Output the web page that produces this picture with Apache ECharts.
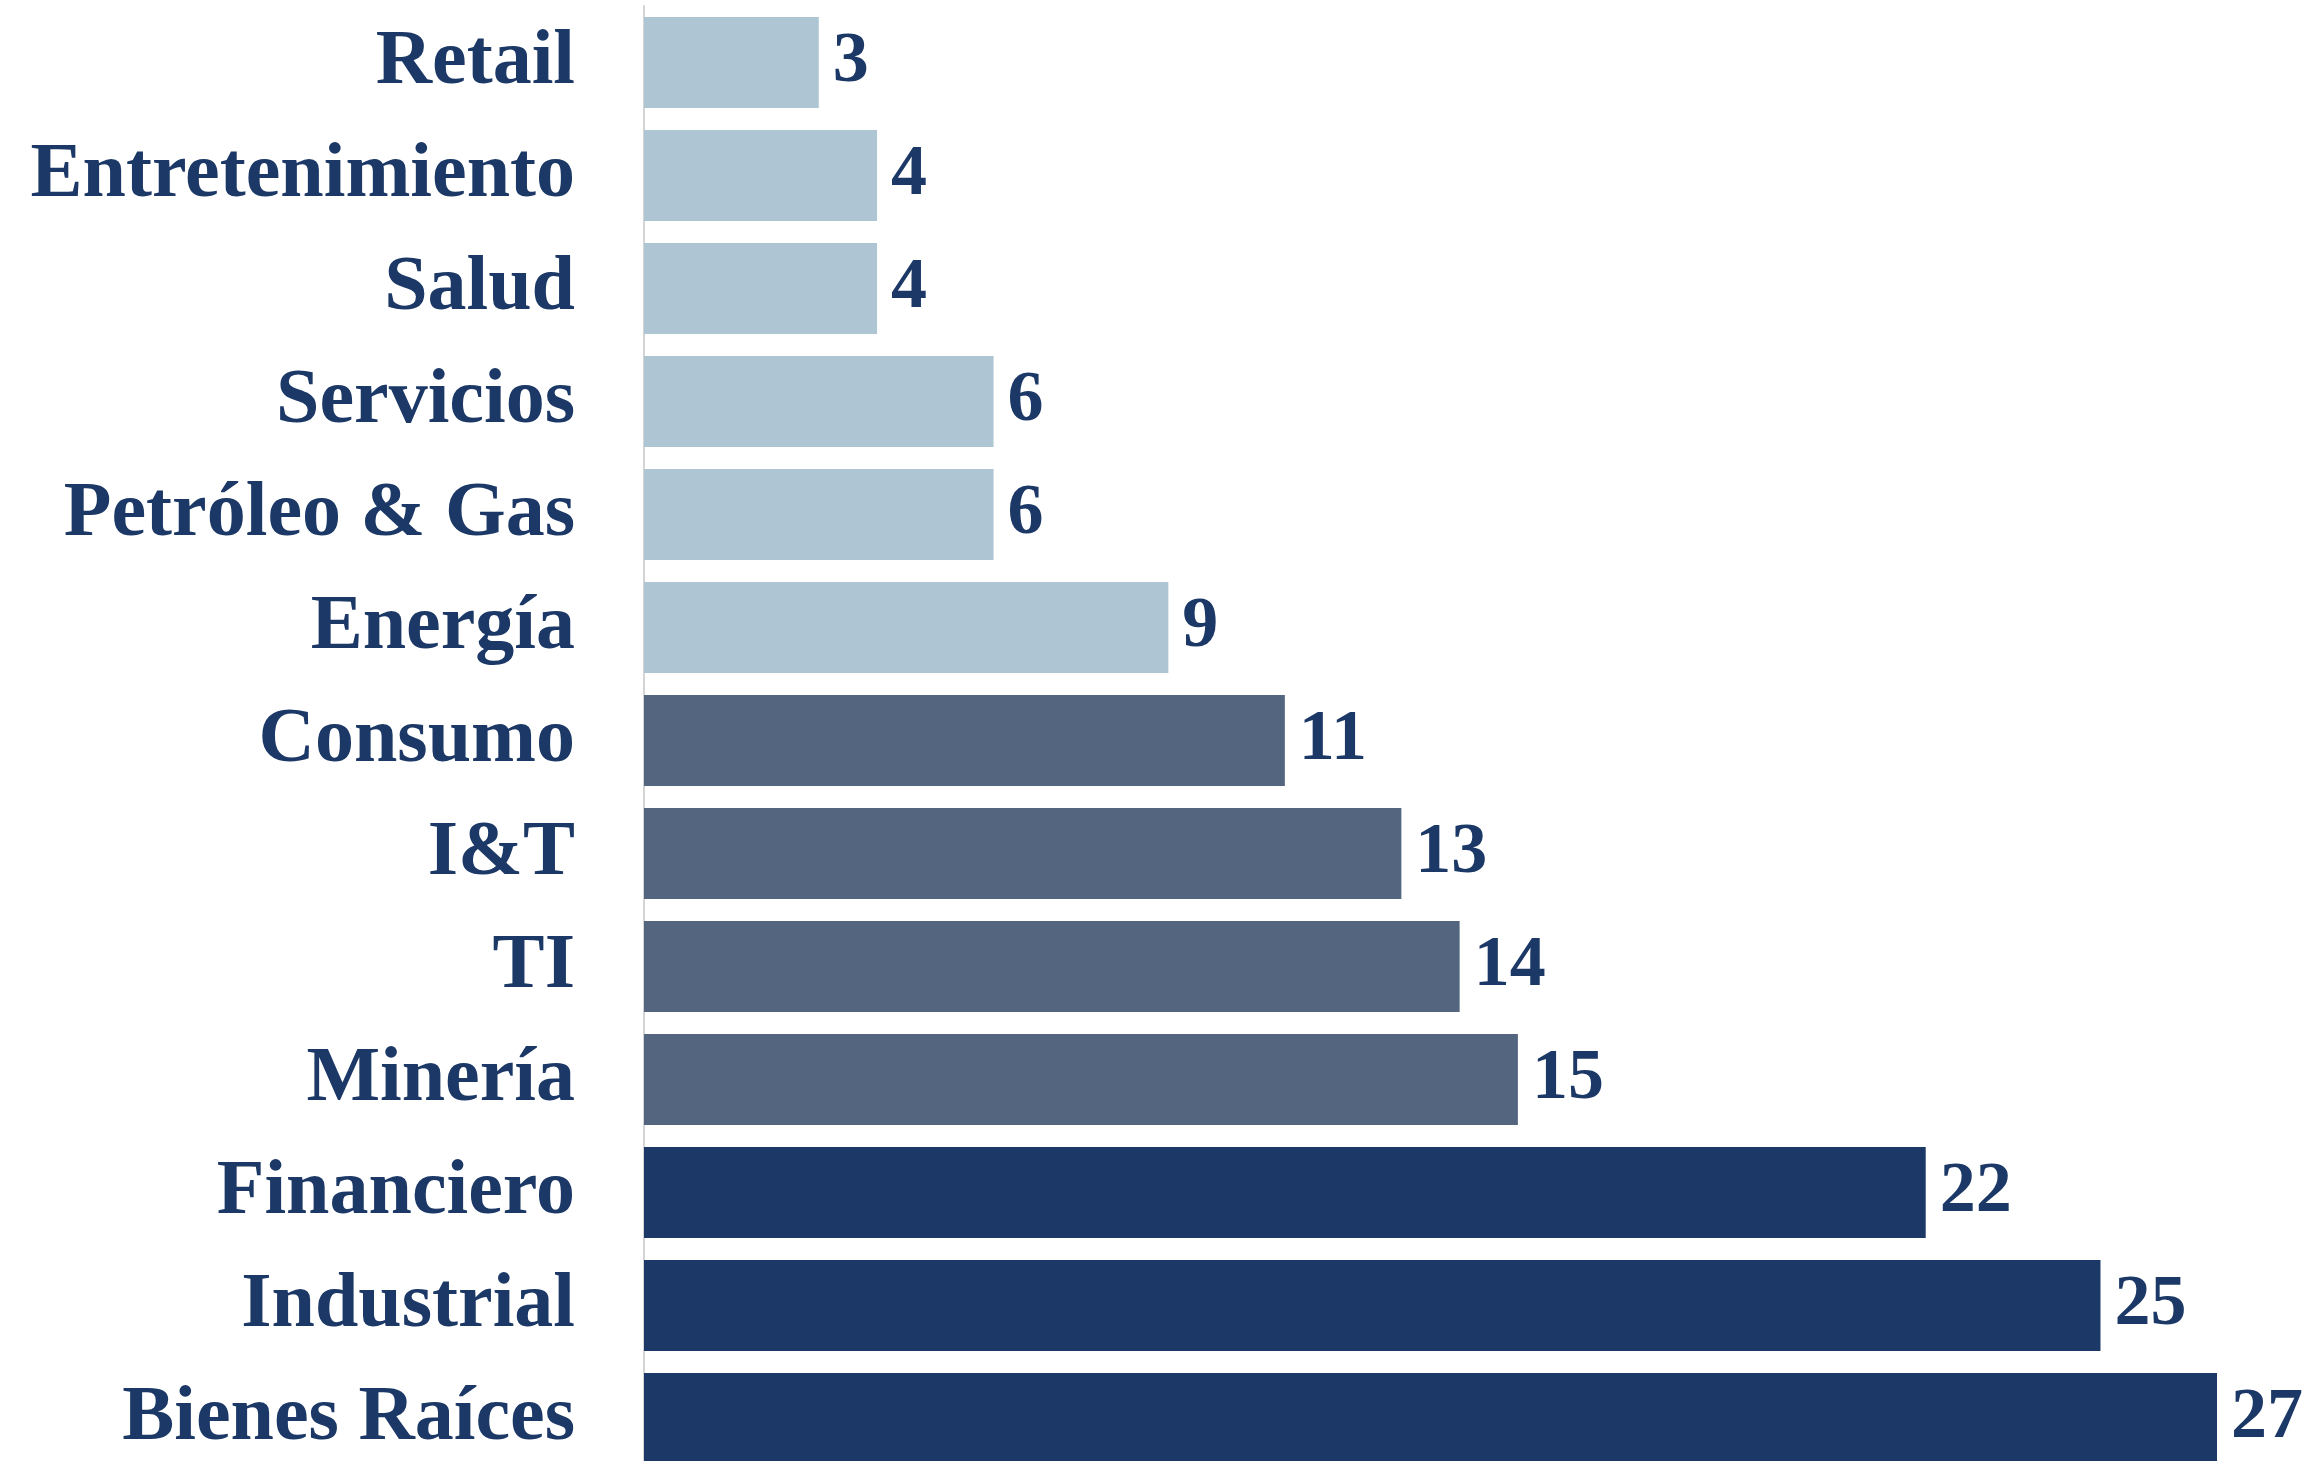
<!DOCTYPE html>
<html>
<head>
<meta charset="utf-8">
<script src="https://cdn.jsdelivr.net/npm/echarts@6/dist/echarts.min.js"></script>
<style>html,body{margin:0;padding:0;background:#fff;overflow:hidden;width:2311px;height:1461px;}#c{width:2311px;height:1490px;}</style>
</head>
<body>
<div id="c"></div>
<script>
const categories = ["Retail","Entretenimiento","Salud","Servicios","Petróleo & Gas","Energía","Consumo","I&T","TI","Minería","Financiero","Industrial","Bienes Raíces"];
const values = [3,4,4,6,6,9,11,13,14,15,22,25,27];

const chart = echarts.init(document.getElementById('c'), null, {renderer:'canvas'});
const FONT = '"Liberation Serif", "DejaVu Serif", serif';
chart.setOption({
  animation: false,
  grid: {left: 644, right: 94, top: 6, height: 1469, containLabel: false},
  xAxis: {type: 'value', min: 0, max: 27, show: false},
  yAxis: {
    type: 'category', data: categories, inverse: true,
    axisLine: {show: true, lineStyle: {color: '#d4d4d4', width: 2}},
    axisTick: {show: false},
    axisLabel: {color: '#1B3866', fontFamily: FONT, fontWeight: 'bold', fontSize: 78, margin: 69}
  },
  series: [{
    type: 'bar', data: values, barWidth: 91,
    itemStyle: {color: p => p.value > 20 ? '#1B3866' : (p.value > 10 ? '#546580' : '#AEC5D4')},
    label: {show: true, position: 'right', distance: 14, color: '#1B3866', fontFamily: FONT, fontWeight: 'bold', fontSize: 72}
  }]
});
</script>
</body>
</html>
